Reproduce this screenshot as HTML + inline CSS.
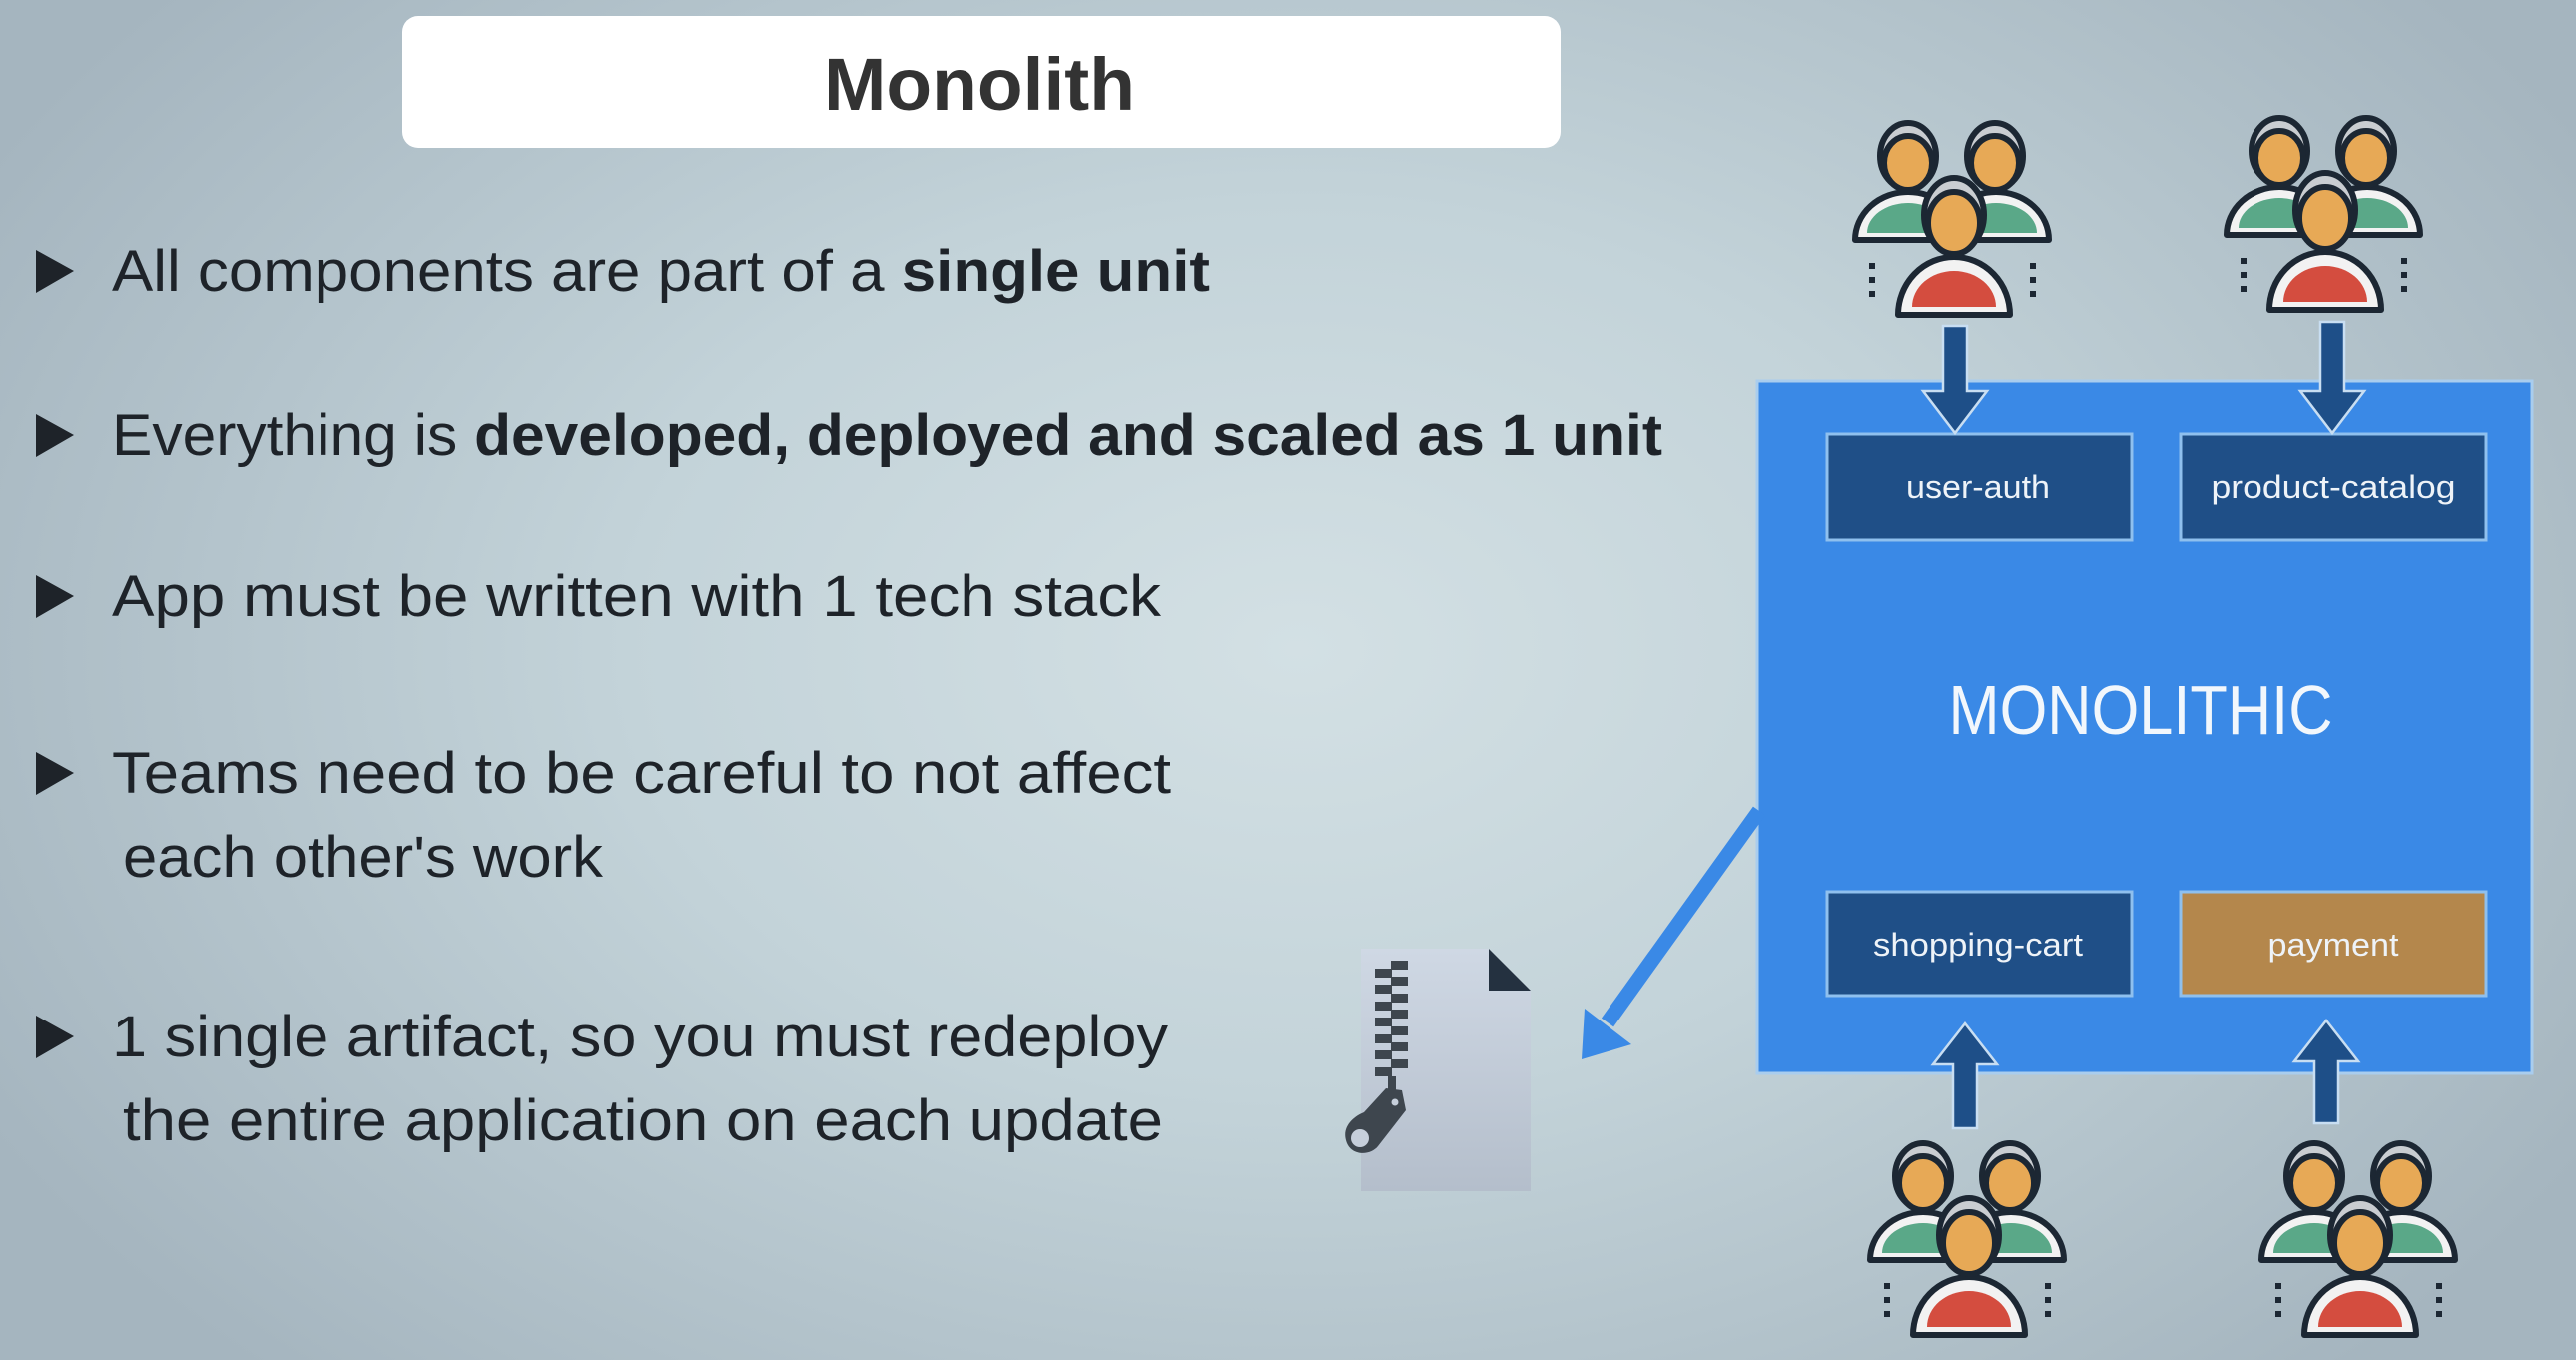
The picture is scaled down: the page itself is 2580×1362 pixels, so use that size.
<!DOCTYPE html>
<html><head><meta charset="utf-8"><style>
html,body{margin:0;padding:0}
body{width:2580px;height:1362px;overflow:hidden;background:radial-gradient(ellipse 1500px 1000px at 1300px 650px,#d3e0e4 0%,#c3d3d9 45%,#a5b5bf 100%);}
svg{display:block}
</style></head><body>
<svg width="2580" height="1362" viewBox="0 0 2580 1362" xmlns="http://www.w3.org/2000/svg">
<defs>
<linearGradient id="pg" x1="0" y1="0" x2="0" y2="1"><stop offset="0" stop-color="#cfd8e4"/><stop offset="1" stop-color="#b4becb"/></linearGradient>
<g id="ppl" stroke="#1c2733" stroke-width="6" stroke-linejoin="round">
 <path d="M18 140 A53 48 0 0 1 124 140 Z" fill="#f2f2f2"/>
 <path d="M30 133 A41 30 0 0 1 112 133 Z" fill="#5aa888" stroke="none"/>
 <path d="M106 140 A53 48 0 0 1 212 140 Z" fill="#f2f2f2"/>
 <path d="M118 133 A41 30 0 0 1 200 133 Z" fill="#5aa888" stroke="none"/>
 <ellipse cx="71" cy="56" rx="28" ry="33" fill="#c9cdd1"/>
 <ellipse cx="71" cy="63" rx="24" ry="27" fill="#e7a956"/>
 <ellipse cx="158" cy="56" rx="28" ry="33" fill="#c9cdd1"/>
 <ellipse cx="158" cy="63" rx="24" ry="27" fill="#e7a956"/>
 <path d="M61 215 A56 58 0 0 1 173 215 Z" fill="#f2f2f2"/>
 <path d="M75 207 A42 36 0 0 1 159 207 Z" fill="#d44d3f" stroke="none"/>
 <ellipse cx="117" cy="115" rx="30" ry="37" fill="#c9cdd1"/>
 <ellipse cx="117" cy="123" rx="26" ry="31" fill="#e7a956"/>
 <g stroke="none" fill="#1c2733"><rect x="32" y="163" width="6" height="6"/><rect x="32" y="177" width="6" height="6"/><rect x="32" y="191" width="6" height="6"/><rect x="193" y="163" width="6" height="6"/><rect x="193" y="177" width="6" height="6"/><rect x="193" y="191" width="6" height="6"/></g>
</g>
</defs>

<!-- title -->
<rect x="403" y="16" width="1160" height="132" rx="16" fill="#ffffff"/>
<text x="981" y="110" text-anchor="middle" font-family="Liberation Sans, sans-serif" font-weight="bold" font-size="74" fill="#333" textLength="312" lengthAdjust="spacingAndGlyphs">Monolith</text>

<!-- bullets -->
<g fill="#1e2329" font-family="Liberation Sans, sans-serif" font-size="58">
 <path d="M36 250 L74 271 L36 293 Z"/>
 <text x="112" y="291" textLength="1100" lengthAdjust="spacingAndGlyphs">All components are part of a <tspan font-weight="bold">single unit</tspan></text>
 <path d="M36 415 L74 436 L36 458 Z"/>
 <text x="112" y="456" textLength="1553" lengthAdjust="spacingAndGlyphs">Everything is <tspan font-weight="bold">developed, deployed and scaled as 1 unit</tspan></text>
 <path d="M36 576 L74 597 L36 619 Z"/>
 <text x="112" y="617" textLength="1051" lengthAdjust="spacingAndGlyphs">App must be written with 1 tech stack</text>
 <path d="M36 753 L74 774 L36 796 Z"/>
 <text x="112" y="794" textLength="1061" lengthAdjust="spacingAndGlyphs">Teams need to be careful to not affect</text>
 <text x="123" y="878" textLength="481" lengthAdjust="spacingAndGlyphs">each other's work</text>
 <path d="M36 1017 L74 1038 L36 1060 Z"/>
 <text x="112" y="1058" textLength="1058" lengthAdjust="spacingAndGlyphs">1 single artifact, so you must redeploy</text>
 <text x="123" y="1142" textLength="1042" lengthAdjust="spacingAndGlyphs">the entire application on each update</text>
</g>

<!-- monolithic box -->
<rect x="1760" y="382" width="776" height="693" fill="#3a89e6" stroke="#a9cdee" stroke-width="3"/>
<g stroke="#8fc0ee" stroke-width="3">
 <rect x="1830" y="435" width="305" height="106" fill="#1f4f87"/>
 <rect x="2184" y="435" width="306" height="106" fill="#1f4f87"/>
 <rect x="1830" y="893" width="305" height="104" fill="#1f4f87"/>
 <rect x="2184" y="893" width="306" height="104" fill="#b4874c"/>
</g>
<g fill="#eef3f8" font-family="Liberation Sans, sans-serif" font-size="32" text-anchor="middle">
 <text x="1981" y="499" textLength="144" lengthAdjust="spacingAndGlyphs">user-auth</text>
 <text x="2337" y="499" textLength="245" lengthAdjust="spacingAndGlyphs">product-catalog</text>
 <text x="1981" y="957" textLength="210" lengthAdjust="spacingAndGlyphs">shopping-cart</text>
 <text x="2337" y="957" textLength="131" lengthAdjust="spacingAndGlyphs">payment</text>
</g>
<text x="2144" y="735" text-anchor="middle" fill="#f2f7fc" font-family="Liberation Sans, sans-serif" font-size="70" textLength="385" lengthAdjust="spacingAndGlyphs">MONOLITHIC</text>

<!-- arrows -->
<g fill="#1e4f88" stroke="#c8def2" stroke-width="2.5">
 <path d="M1946 326 L1970 326 L1970 392 L1990 392 L1958 434 L1926 392 L1946 392 Z"/>
 <path d="M2324 322 L2348 322 L2348 392 L2368 392 L2336 434 L2304 392 L2324 392 Z"/>
 <path d="M1956 1130 L1980 1130 L1980 1066 L2000 1066 L1968 1025 L1936 1066 L1956 1066 Z"/>
 <path d="M2318 1125 L2342 1125 L2342 1063 L2362 1063 L2330 1022 L2298 1063 L2318 1063 Z"/>
</g>
<line x1="1762" y1="812" x2="1610" y2="1024" stroke="#3a89e6" stroke-width="15"/>
<path d="M1584 1061 L1587 1010 L1634 1046 Z" fill="#3a89e6"/>

<!-- zip -->
<path d="M1363 950 L1491 950 L1533 992 L1533 1193 L1363 1193 Z" fill="url(#pg)"/>
<path d="M1491 950 L1533 992 L1491 992 Z" fill="#243140"/>
<g fill="#3e464e">
 <rect x="1393" y="962" width="17" height="9"/><rect x="1377" y="970" width="17" height="9"/>
 <rect x="1393" y="978" width="17" height="9"/><rect x="1377" y="986" width="17" height="9"/>
 <rect x="1393" y="995" width="17" height="9"/><rect x="1377" y="1003" width="17" height="9"/>
 <rect x="1393" y="1011" width="17" height="9"/><rect x="1377" y="1019" width="17" height="9"/>
 <rect x="1393" y="1028" width="17" height="9"/><rect x="1377" y="1036" width="17" height="9"/>
 <rect x="1393" y="1044" width="17" height="9"/><rect x="1377" y="1052" width="17" height="9"/>
 <rect x="1393" y="1061" width="17" height="9"/><rect x="1377" y="1069" width="17" height="9"/>
 <rect x="1390" y="1078" width="8" height="14"/>
 <path d="M1388 1090 L1404 1092 L1408 1112 L1380 1148 C1372 1158 1352 1158 1348 1142 C1344 1128 1356 1118 1366 1114 Z"/>
</g>
<circle cx="1362" cy="1140" r="9" fill="#c6cfdb"/>
<circle cx="1397" cy="1104" r="3.5" fill="#c6cfdb"/>

<!-- people -->
<use href="#ppl" transform="translate(1840,100)"/>
<use href="#ppl" transform="translate(2212,95)"/>
<use href="#ppl" transform="translate(1855,1122)"/>
<use href="#ppl" transform="translate(2247,1122)"/>
</svg>
</body></html>
